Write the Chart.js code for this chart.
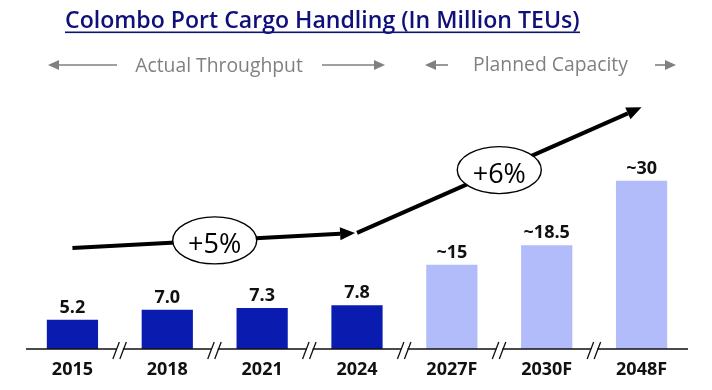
<!DOCTYPE html>
<html>
<head>
<meta charset="utf-8">
<script src="https://cdn.jsdelivr.net/npm/chart.js@4.4.1/dist/chart.umd.min.js"></script>
<style>
  html, body { margin: 0; padding: 0; background: #ffffff; }
  #wrap { width: 712px; height: 390px; }
</style>
</head>
<body>
<div id="wrap"><canvas id="c" width="712" height="390"></canvas></div>
<script>
// ---- data ----
const categories = ['2015', '2018', '2021', '2024', '2027F', '2030F', '2048F'];
const values = [5.2, 7.0, 7.3, 7.8, 15, 18.5, 30];
const valueLabels = ['5.2', '7.0', '7.3', '7.8', '~15', '~18.5', '~30'];
const isForecast = [false, false, false, false, true, true, true];
const chartTitle = 'Colombo Port Cargo Handling (In Million TEUs)';
const sectionLabels = ['Actual Throughput', 'Planned Capacity'];
const growthLabels = ['+5%', '+6%'];
// trend arrows in (category index, value) units
const trendFrom = [[0, 18.0], [3.0, 20.7]];
const trendTo = [[2.98, 20.7], [6.0, 43.1]];
const growthAt = [1.5, 4.5];

// ---- styles ----
const DARK = '#0a1cb0';
const LIGHT = '#b3bcfb';
const NAVY = '#10107a';
const GREY = '#808080';
const FONT = '"Open Sans", "Noto Sans", sans-serif';

function fitSize(ctx, text, weight, target) {
  ctx.font = weight + ' 20px ' + FONT;
  return 20 * target / ctx.measureText(text).width;
}

function arrow(ctx, x1, y1, x2, y2, lw, hl, hw, color) {
  const a = Math.atan2(y2 - y1, x2 - x1);
  const bx = x2 - hl * Math.cos(a), by = y2 - hl * Math.sin(a);
  ctx.save();
  ctx.strokeStyle = color; ctx.fillStyle = color; ctx.lineWidth = lw;
  ctx.beginPath(); ctx.moveTo(x1, y1); ctx.lineTo(bx, by); ctx.stroke();
  ctx.beginPath();
  ctx.moveTo(x2, y2);
  ctx.lineTo(bx + hw * Math.sin(a), by - hw * Math.cos(a));
  ctx.lineTo(bx - hw * Math.sin(a), by + hw * Math.cos(a));
  ctx.closePath(); ctx.fill();
  ctx.restore();
}

const decor = {
  id: 'decor',
  afterDraw(chart) {
    const ctx = chart.ctx;
    const xs = chart.scales.x, ys = chart.scales.y;
    const area = chart.chartArea;
    ctx.save();

    // title
    const tSize = fitSize(ctx, chartTitle, '600', 515);
    ctx.font = '600 ' + tSize + 'px ' + FONT;
    ctx.fillStyle = NAVY;
    ctx.textAlign = 'left'; ctx.textBaseline = 'alphabetic';
    ctx.fillText(chartTitle, 65, 28);
    ctx.fillRect(65, 31.5, 515, 1.6);

    // section headers with arrows
    const sSize = Math.min(fitSize(ctx, sectionLabels[0], '400', 172), fitSize(ctx, sectionLabels[1], '400', 155));
    ctx.font = '400 ' + sSize + 'px ' + FONT;
    ctx.fillStyle = GREY;
    ctx.textAlign = 'center';
    ctx.fillText(sectionLabels[0], 219, 71.5);
    ctx.fillText(sectionLabels[1], 550.5, 71);
    arrow(ctx, 117, 65, 48, 65, 1.6, 11, 5, GREY);
    arrow(ctx, 322, 65, 385, 65, 1.6, 11, 5, GREY);
    arrow(ctx, 448, 65, 425, 65, 1.6, 11, 5, GREY);
    arrow(ctx, 655, 65, 676, 65, 1.6, 11, 5, GREY);

    // axis line with breaks
    const y0 = ys.getPixelForValue(0);
    const left = area.left + 1, right = area.right - 1;
    const breaks = [];
    for (let i = 0; i < categories.length - 1; i++) breaks.push(xs.getPixelForValue(i + 0.5));
    ctx.strokeStyle = '#111'; ctx.lineWidth = 1.5;
    let start = left;
    ctx.beginPath();
    breaks.forEach(b => {
      ctx.moveTo(start, y0); ctx.lineTo(b - 3, y0);
      start = b + 3;
    });
    ctx.moveTo(start, y0); ctx.lineTo(right, y0);
    ctx.stroke();
    ctx.lineWidth = 1.3;
    ctx.beginPath();
    breaks.forEach(b => {
      [-3.5, 3.5].forEach(d => {
        ctx.moveTo(b + d - 3.5, y0 + 10);
        ctx.lineTo(b + d + 3, y0 - 7);
      });
    });
    ctx.stroke();

    // value labels
    const meta = chart.getDatasetMeta(0);
    ctx.font = 'bold 18px ' + FONT;
    ctx.fillStyle = '#111';
    ctx.textAlign = 'center'; ctx.textBaseline = 'alphabetic';
    meta.data.forEach((bar, i) => {
      ctx.fillText(valueLabels[i], bar.x, bar.y - 7);
    });

    // trend arrows
    trendFrom.forEach((f, i) => {
      const t = trendTo[i];
      const x1 = xs.getPixelForValue(f[0]), y1 = ys.getPixelForValue(f[1]);
      const x2 = xs.getPixelForValue(t[0]), y2 = ys.getPixelForValue(t[1]);
      arrow(ctx, x1, y1, x2, y2, 4, 15, 6.5, '#000');
      // growth ellipse
      const gx = xs.getPixelForValue(growthAt[i]);
      const fr = (growthAt[i] - f[0]) / (t[0] - f[0]);
      const gy = y1 + (y2 - y1) * fr;
      ctx.beginPath();
      ctx.ellipse(gx, gy, 42, 23.5, 0, 0, Math.PI * 2);
      ctx.fillStyle = '#fff'; ctx.fill();
      ctx.strokeStyle = '#000'; ctx.lineWidth = 1.4; ctx.stroke();
      ctx.fillStyle = '#000';
      ctx.font = '400 27px ' + FONT;
      ctx.textAlign = 'center'; ctx.textBaseline = 'alphabetic';
      ctx.fillText(growthLabels[i], gx, gy + 13);
    });

    ctx.restore();
  }
};

new Chart(document.getElementById('c'), {
  type: 'bar',
  data: {
    labels: categories,
    datasets: [{
      data: values,
      backgroundColor: isForecast.map(f => f ? LIGHT : DARK),
      borderWidth: 0,
      barPercentage: 0.54,
      categoryPercentage: 1.0
    }]
  },
  options: {
    responsive: false,
    animation: false,
    layout: { padding: { top: 91, left: 25, right: 23, bottom: 0 } },
    plugins: { legend: { display: false }, tooltip: { enabled: false }, title: { display: false } },
    scales: {
      x: {
        grid: { display: false, drawTicks: false },
        border: { display: false },
        ticks: { color: '#111', padding: 9.7, font: { family: FONT, size: 18, weight: 'bold' } }
      },
      y: { display: false, min: 0, max: 46 }
    }
  },
  plugins: [decor]
});
</script>
</body>
</html>
